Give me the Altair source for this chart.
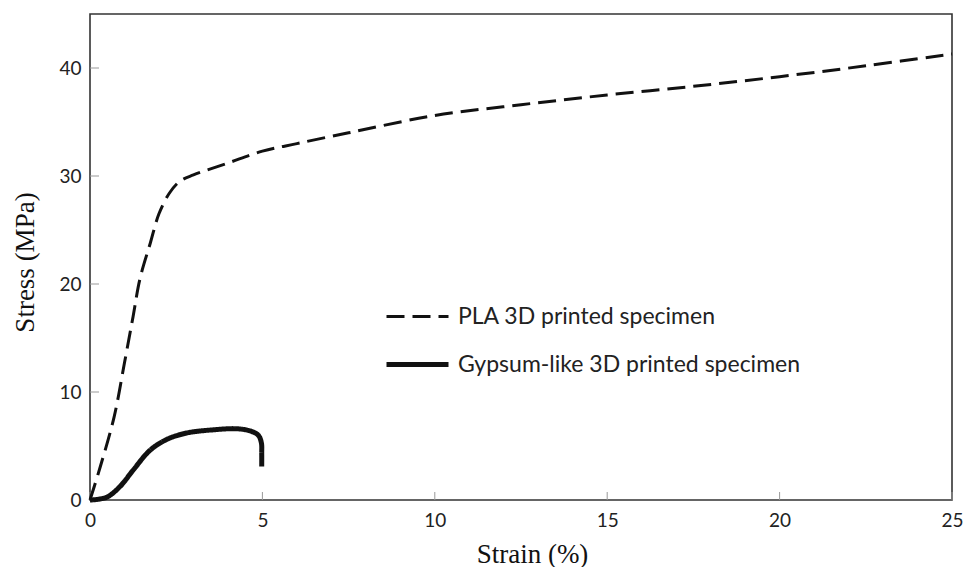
import altair as alt
import pandas as pd

# PLA 3D printed specimen (dashed)
pla_strain = [0.0, 0.3, 0.7, 1.0, 1.25, 1.45, 1.75, 2.0, 2.3, 2.6, 3.0, 4.0, 5.0, 6.0, 7.5,
              10.0, 12.5, 15.0, 17.5, 20.0, 22.5, 25.0]
pla_stress = [0.0, 3.1, 7.7, 12.7, 17.0, 20.5, 23.8, 26.5, 28.4, 29.5, 30.1, 31.2, 32.3, 33.0,
              34.0, 35.6, 36.6, 37.5, 38.3, 39.2, 40.2, 41.3]

# Gypsum-like 3D printed specimen (solid)
gyp_strain = [0.0, 0.48, 0.87, 1.26, 1.74, 2.22, 2.8, 3.58, 4.25, 4.64, 4.88, 4.97, 4.98, 4.98]
gyp_stress = [0.0, 0.25, 1.25, 2.8, 4.6, 5.6, 6.2, 6.5, 6.6, 6.4, 6.0, 5.3, 4.3, 3.1]

series_names = ["PLA 3D printed specimen", "Gypsum-like 3D printed specimen"]
x_ticks = [0, 5, 10, 15, 20, 25]
y_ticks = [0, 10, 20, 30, 40]

rows = []
for i, (x, y) in enumerate(zip(pla_strain, pla_stress)):
    rows.append({"strain": x, "stress": y, "series": series_names[0], "order": i})
for i, (x, y) in enumerate(zip(gyp_strain, gyp_stress)):
    rows.append({"strain": x, "stress": y, "series": series_names[1], "order": i})
df = pd.DataFrame(rows)

W, H = 862, 486

xscale = alt.Scale(domain=[0, 25], nice=False, zero=False)
yscale = alt.Scale(domain=[0, 45], nice=False, zero=False)

lines = alt.Chart(df).mark_line(interpolate="catmull-rom", color="#111111", strokeCap="butt").encode(
    x=alt.X("strain:Q", scale=xscale,
            axis=alt.Axis(values=x_ticks, title="Strain (%)", tickSize=0, domain=False, grid=False,
                          labelFlush=False,
                          labelFont="Lato", labelFontSize=19, labelColor="#222222", labelPadding=11,
                          titleFont="Liberation Serif", titleFontSize=27, titleFontWeight="normal",
                          titleColor="#111111", titleX=442, titleY=62, titleBaseline="alphabetic")),
    y=alt.Y("stress:Q", scale=yscale,
            axis=alt.Axis(values=y_ticks, title="Stress (MPa)", tickSize=0, domain=False, grid=False,
                          labelFlush=False,
                          labelFont="Lato", labelFontSize=19, labelColor="#222222", labelPadding=9,
                          titleFont="Liberation Serif", titleFontSize=27, titleFontWeight="normal",
                          titleColor="#111111", titleX=-57, titleY=248, titleBaseline="alphabetic")),
    strokeDash=alt.StrokeDash("series:N",
                              scale=alt.Scale(domain=series_names, range=[[18, 8], [1, 0]]),
                              legend=alt.Legend(title=None, orient="none", legendX=294, legendY=270,
                                                symbolType="stroke", symbolSize=3844,
                                                symbolStrokeColor="#111111",
                                                labelFont="Lato", labelFontSize=23, labelColor="#222222",
                                                labelLimit=600, labelOffset=7, rowPadding=2,
                                                padding=0)),
    strokeWidth=alt.StrokeWidth("series:N",
                                scale=alt.Scale(domain=series_names, range=[3, 5]),
                                legend=None),
    order="order:Q",
)

xt = pd.DataFrame({"v": x_ticks})
yt = pd.DataFrame({"v": y_ticks})
xticks = alt.Chart(xt).mark_rule(color="#999999", strokeWidth=1).encode(
    x=alt.X("v:Q", scale=xscale), y=alt.value(H), y2=alt.value(H - 8))
yticks = alt.Chart(yt).mark_rule(color="#999999", strokeWidth=1).encode(
    y=alt.Y("v:Q", scale=yscale), x=alt.value(0), x2=alt.value(9))

chart = alt.layer(xticks, yticks, lines).properties(
    width=W, height=H,
    autosize=alt.AutoSizeParams(type="none"),
    padding={"left": 90, "top": 14, "right": 20, "bottom": 67},
    background="white",
).configure_view(stroke="#333333", strokeWidth=1.6)

chart.save("out.html", embed_options={"renderer": "svg", "actions": False})
